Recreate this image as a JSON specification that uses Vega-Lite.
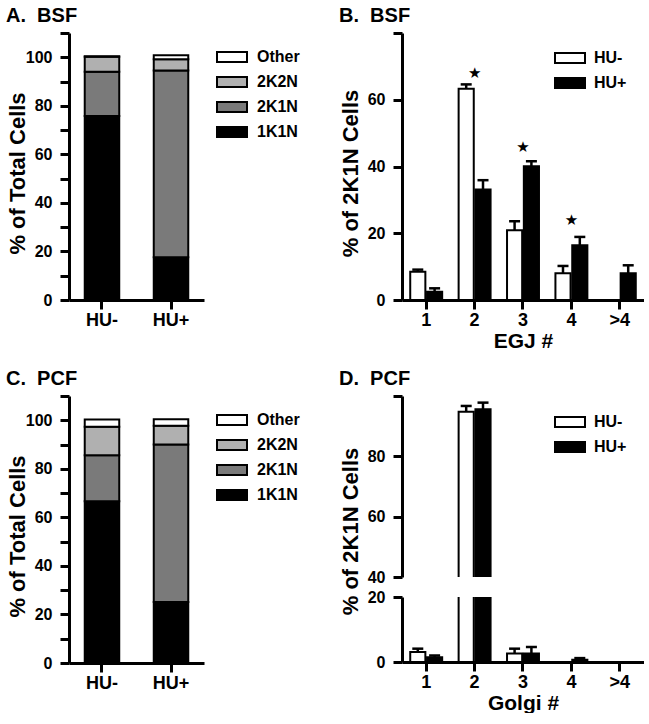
{
  "$schema": "https://vega.github.io/schema/vega-lite/v6.json",
  "padding": {"left": 5, "top": 5, "right": 0, "bottom": 0},
  "config": {
    "font": "Liberation Sans",
    "view": {"stroke": null},
    "axis": {
      "domainColor": "black", "domainWidth": 3, "tickColor": "black", "tickWidth": 3, "tickSize": 9,
      "labelFont": "Liberation Sans", "labelFontWeight": "bold", "labelColor": "black",
      "titleFont": "Liberation Sans", "titleFontWeight": "bold", "titleColor": "black", "grid": false
    },
    "axisY": {"labelFontSize": 16, "labelPadding": 8, "titleFontSize": 22, "titleX": -45, "titleBaseline": "alphabetic"},
    "axisX": {"labelFontSize": 18, "labelPadding": 2, "titlePadding": 1, "titleFontSize": 21, "labelAngle": 0},
    "title": {"anchor": "start", "frame": "bounds", "fontSize": 20, "fontWeight": "bold", "color": "black", "font": "Liberation Sans", "offset": 6},
    "legend": {
      "title": null, "symbolType": "M-3,-1H3V1H-3Z", "symbolSize": 100, "symbolStrokeColor": "black",
      "symbolStrokeWidth": 2, "labelFontSize": 16, "labelFontWeight": "bold", "labelColor": "black",
      "labelFont": "Liberation Sans", "rowPadding": 7, "symbolOpacity": 1
    }
  },
  "datasets": {
    "bsfComp": [
      {"cond": "HU-", "type": "1K1N", "rank": 1, "pct": 75.8},
      {"cond": "HU-", "type": "2K1N", "rank": 2, "pct": 18.2},
      {"cond": "HU-", "type": "2K2N", "rank": 3, "pct": 6.2},
      {"cond": "HU-", "type": "Other", "rank": 4, "pct": 0.2},
      {"cond": "HU+", "type": "1K1N", "rank": 1, "pct": 17.6},
      {"cond": "HU+", "type": "2K1N", "rank": 2, "pct": 77.0},
      {"cond": "HU+", "type": "2K2N", "rank": 3, "pct": 4.6},
      {"cond": "HU+", "type": "Other", "rank": 4, "pct": 1.6}
    ],
    "pcfComp": [
      {"cond": "HU-", "type": "1K1N", "rank": 1, "pct": 66.6},
      {"cond": "HU-", "type": "2K1N", "rank": 2, "pct": 19.0},
      {"cond": "HU-", "type": "2K2N", "rank": 3, "pct": 11.7},
      {"cond": "HU-", "type": "Other", "rank": 4, "pct": 3.0},
      {"cond": "HU+", "type": "1K1N", "rank": 1, "pct": 25.1},
      {"cond": "HU+", "type": "2K1N", "rank": 2, "pct": 64.9},
      {"cond": "HU+", "type": "2K2N", "rank": 3, "pct": 7.7},
      {"cond": "HU+", "type": "Other", "rank": 4, "pct": 2.7}
    ],
    "egj": [
      {"n": "1", "grp": "HU-", "val": 8.5, "hi": 9.1},
      {"n": "1", "grp": "HU+", "val": 2.5, "hi": 3.5},
      {"n": "2", "grp": "HU-", "val": 63.3, "hi": 64.6},
      {"n": "2", "grp": "HU+", "val": 33.1, "hi": 35.9},
      {"n": "3", "grp": "HU-", "val": 20.9, "hi": 23.6},
      {"n": "3", "grp": "HU+", "val": 40.1, "hi": 41.6},
      {"n": "4", "grp": "HU-", "val": 8.0, "hi": 10.2},
      {"n": "4", "grp": "HU+", "val": 16.4, "hi": 18.9},
      {"n": ">4", "grp": "HU+", "val": 8.0, "hi": 10.4}
    ],
    "stars": [
      {"n": "2", "y": 68, "s": "★"},
      {"n": "3", "y": 45.8, "s": "★"},
      {"n": "4", "y": 24, "s": "★"}
    ],
    "golgi": [
      {"n": "1", "grp": "HU-", "val": 3.1, "hi": 4.1},
      {"n": "1", "grp": "HU+", "val": 1.5, "hi": 2.0},
      {"n": "2", "grp": "HU-", "val": 94.8, "hi": 96.7},
      {"n": "2", "grp": "HU+", "val": 95.6, "hi": 97.8},
      {"n": "3", "grp": "HU-", "val": 2.6, "hi": 4.1},
      {"n": "3", "grp": "HU+", "val": 2.6, "hi": 4.6},
      {"n": "4", "grp": "HU+", "val": 0.7, "hi": 1.2}
    ]
  },
  "resolve": {"scale": {"x": "independent", "y": "independent", "fill": "independent", "xOffset": "independent"}, "legend": {"fill": "independent"}},
  "vconcat": [
    {
      "resolve": {"scale": {"x": "independent", "y": "independent", "fill": "independent", "xOffset": "independent"}, "legend": {"fill": "independent"}},
      "hconcat": [
        {
          "title": "A.\u00a0\u00a0BSF",
          "width": 135, "height": 267,
          "data": {"name": "bsfComp"},
          "mark": {"type": "bar", "stroke": "black", "strokeWidth": 2},
          "encoding": {
            "x": {"field": "cond", "type": "nominal", "sort": ["HU-", "HU+"], "scale": {"paddingInner": 0.5, "paddingOuter": 0.228}, "axis": {"title": null}},
            "y": {"field": "pct", "type": "quantitative", "stack": "zero", "scale": {"domain": [0, 110], "nice": false},
                  "axis": {"title": "% of Total Cells", "values": [0, 10, 20, 30, 40, 50, 60, 70, 80, 90, 100, 110], "labelExpr": "datum.value % 20 == 0 && datum.value <= 100 ? datum.label : ''", "titleY": 140}},
            "fill": {"field": "type", "type": "nominal", "scale": {"domain": ["Other", "2K2N", "2K1N", "1K1N"], "range": ["#ffffff", "#b0b0b0", "#7a7a7a", "#000000"]},
                     "legend": {"orient": "none", "legendX": 155, "legendY": 16, "labelOffset": 17}},
            "order": {"field": "rank", "type": "quantitative"}
          }
        },
        {
          "title": "B.\u00a0\u00a0BSF",
          "width": 242, "height": 267,
          "encoding": {
            "x": {"field": "n", "type": "nominal", "sort": ["1", "2", "3", "4", ">4"], "scale": {"domain": ["1", "2", "3", "4", ">4"], "paddingInner": 0.34, "paddingOuter": 0.17}, "axis": {"title": "EGJ #"}}
          },
          "layer": [
            {
              "data": {"name": "egj"},
              "mark": {"type": "bar", "stroke": "black", "strokeWidth": 2},
              "encoding": {
                "xOffset": {"field": "grp", "type": "nominal", "scale": {"domain": ["HU-", "HU+"], "paddingInner": 0.1, "paddingOuter": 0}},
                "y": {"field": "val", "type": "quantitative", "scale": {"domain": [0, 80], "nice": false},
                      "axis": {"title": "% of 2K1N Cells", "values": [0, 10, 20, 30, 40, 50, 60, 70, 80], "labelExpr": "datum.value % 20 == 0 && datum.value < 80 ? datum.label : ''", "titleY": 140}},
                "fill": {"field": "grp", "type": "nominal", "scale": {"domain": ["HU-", "HU+"], "range": ["#ffffff", "#000000"]},
                         "legend": {"orient": "none", "legendX": 160, "legendY": 17, "labelOffset": 16}}
              }
            },
            {
              "data": {"name": "egj"},
              "mark": {"type": "rule", "color": "black", "strokeWidth": 2.5},
              "encoding": {
                "xOffset": {"field": "grp", "type": "nominal", "scale": {"domain": ["HU-", "HU+"], "paddingInner": 0.1, "paddingOuter": 0}},
                "y": {"field": "val", "type": "quantitative"},
                "y2": {"field": "hi"}
              }
            },
            {
              "data": {"name": "egj"},
              "mark": {"type": "tick", "color": "black", "thickness": 2.5, "size": 11, "opacity": 1},
              "encoding": {
                "xOffset": {"field": "grp", "type": "nominal", "scale": {"domain": ["HU-", "HU+"], "paddingInner": 0.1, "paddingOuter": 0}},
                "y": {"field": "hi", "type": "quantitative"}
              }
            },
            {
              "data": {"name": "stars"},
              "mark": {"type": "text", "font": "DejaVu Sans", "fontSize": 15, "color": "black", "baseline": "middle"},
              "encoding": {
                "y": {"field": "y", "type": "quantitative"},
                "text": {"field": "s"}
              }
            }
          ]
        }
      ],
      "spacing": 38
    },
    {
      "resolve": {"scale": {"x": "independent", "y": "independent", "fill": "independent", "xOffset": "independent"}, "legend": {"fill": "independent"}},
      "hconcat": [
        {
          "title": "C.\u00a0\u00a0PCF",
          "width": 135, "height": 267,
          "data": {"name": "pcfComp"},
          "mark": {"type": "bar", "stroke": "black", "strokeWidth": 2},
          "encoding": {
            "x": {"field": "cond", "type": "nominal", "sort": ["HU-", "HU+"], "scale": {"paddingInner": 0.5, "paddingOuter": 0.228}, "axis": {"title": null}},
            "y": {"field": "pct", "type": "quantitative", "stack": "zero", "scale": {"domain": [0, 110], "nice": false},
                  "axis": {"title": "% of Total Cells", "values": [0, 10, 20, 30, 40, 50, 60, 70, 80, 90, 100, 110], "labelExpr": "datum.value % 20 == 0 && datum.value <= 100 ? datum.label : ''", "titleY": 140}},
            "fill": {"field": "type", "type": "nominal", "scale": {"domain": ["Other", "2K2N", "2K1N", "1K1N"], "range": ["#ffffff", "#b0b0b0", "#7a7a7a", "#000000"]},
                     "legend": {"orient": "none", "legendX": 155, "legendY": 16, "labelOffset": 17}},
            "order": {"field": "rank", "type": "quantitative"}
          }
        },
        {
          "resolve": {"scale": {"x": "independent", "y": "independent", "fill": "independent", "xOffset": "independent"}, "legend": {"fill": "independent"}},
          "vconcat": [
            {
              "title": "D.\u00a0\u00a0PCF",
              "width": 242, "height": 181,
              "data": {"name": "golgi"},
              "encoding": {
                "x": {"field": "n", "type": "nominal", "sort": ["1", "2", "3", "4", ">4"], "scale": {"domain": ["1", "2", "3", "4", ">4"], "paddingInner": 0.34, "paddingOuter": 0.17}, "axis": null},
                "xOffset": {"field": "grp", "type": "nominal", "scale": {"domain": ["HU-", "HU+"], "paddingInner": 0.1, "paddingOuter": 0}}
              },
              "layer": [
                {
                  "mark": {"type": "bar", "stroke": "black", "strokeWidth": 2, "clip": true},
                  "encoding": {
                    "y": {"field": "val", "type": "quantitative", "scale": {"domain": [40, 100], "nice": false, "zero": false},
                          "axis": {"title": "% of 2K1N Cells", "values": [40, 50, 60, 70, 80, 90, 100], "labelExpr": "datum.value % 20 == 0 && datum.value < 100 ? datum.label : ''", "titleY": 135}},
                    "fill": {"field": "grp", "type": "nominal", "scale": {"domain": ["HU-", "HU+"], "range": ["#ffffff", "#000000"]},
                             "legend": {"orient": "none", "legendX": 160, "legendY": 18, "labelOffset": 16}}
                  }
                },
                {
                  "mark": {"type": "rule", "color": "black", "strokeWidth": 2.5, "clip": true},
                  "encoding": {
                    "y": {"field": "val", "type": "quantitative"},
                    "y2": {"field": "hi"}
                  }
                },
                {
                  "mark": {"type": "tick", "color": "black", "thickness": 2.5, "size": 11, "opacity": 1, "clip": true},
                  "encoding": {
                    "y": {"field": "hi", "type": "quantitative"}
                  }
                }
              ]
            },
            {
              "width": 242, "height": 65,
              "data": {"name": "golgi"},
              "encoding": {
                "x": {"field": "n", "type": "nominal", "sort": ["1", "2", "3", "4", ">4"], "scale": {"domain": ["1", "2", "3", "4", ">4"], "paddingInner": 0.34, "paddingOuter": 0.17}, "axis": {"title": "Golgi #"}},
                "xOffset": {"field": "grp", "type": "nominal", "scale": {"domain": ["HU-", "HU+"], "paddingInner": 0.1, "paddingOuter": 0}}
              },
              "layer": [
                {
                  "mark": {"type": "bar", "stroke": "black", "strokeWidth": 2, "clip": true},
                  "encoding": {
                    "y": {"field": "val", "type": "quantitative", "scale": {"domain": [0, 20], "nice": false},
                          "axis": {"title": null, "values": [0, 10, 20], "labelExpr": "datum.value % 20 == 0 ? datum.label : ''"}},
                    "fill": {"field": "grp", "type": "nominal", "scale": {"domain": ["HU-", "HU+"], "range": ["#ffffff", "#000000"]}, "legend": null}
                  }
                },
                {
                  "mark": {"type": "rule", "color": "black", "strokeWidth": 2.5, "clip": true},
                  "encoding": {
                    "y": {"field": "val", "type": "quantitative"},
                    "y2": {"field": "hi"}
                  }
                },
                {
                  "mark": {"type": "tick", "color": "black", "thickness": 2.5, "size": 11, "opacity": 1, "clip": true},
                  "encoding": {
                    "y": {"field": "hi", "type": "quantitative"}
                  }
                }
              ]
            }
          ],
          "spacing": 20,
          "bounds": "flush"
        }
      ],
      "spacing": 38
    }
  ],
  "spacing": 17
}
